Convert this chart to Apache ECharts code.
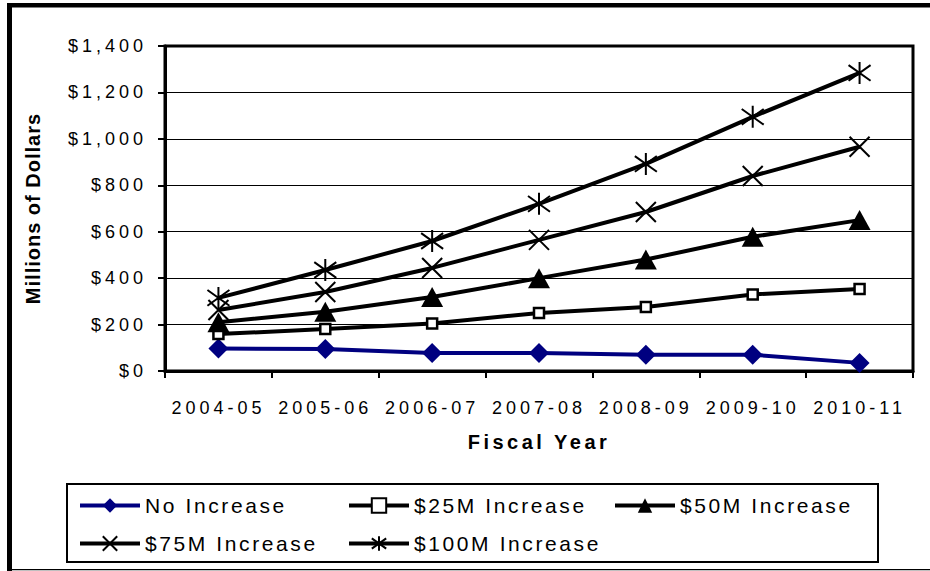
<!DOCTYPE html>
<html>
<head>
<meta charset="utf-8">
<script src="https://cdn.jsdelivr.net/npm/echarts@6/dist/echarts.min.js"></script>
<style>
  html, body { margin: 0; padding: 0; background: #fff; }
  #chart { width: 930px; height: 571px; }
  /* the reference text is widely spaced; SVG text picks this up */
  #chart text { letter-spacing: 4px; }
  #chart text[style*="bold"] { letter-spacing: 3.5px; }
  #chart text[style*="Arial"] { letter-spacing: 1px; }
  #chart text[style*="Helvetica"] { letter-spacing: 2.6px; }
</style>
</head>
<body>
<div id="chart"></div>
<script>
const years = ['2004-05', '2005-06', '2006-07', '2007-08', '2008-09', '2009-10', '2010-11'];
const noIncrease = [97, 95, 78, 78, 70, 70, 35];
const inc25 = [159, 181, 205, 250, 276, 330, 353];
const inc50 = [210, 255, 319, 400, 480, 578, 650];
const inc75 = [263, 340, 444, 565, 685, 840, 966];
const inc100 = [315, 435, 560, 720, 892, 1095, 1284];
const names = ['No Increase', '$25M Increase', '$50M Increase', '$75M Increase', '$100M Increase'];

const FONT = "'Liberation Sans', sans-serif";
const CROSS = 'path://M0,0L10,10M10,0L0,10';
const STAR = 'path://M0,0L10,10M10,0L0,10M5,-2L5,12';

function lineSeries(name, data, symbol, size, color, fill, border) {
  return {
    name: name,
    type: 'line',
    data: data,
    symbol: symbol,
    symbolSize: size,
    showAllSymbol: true,
    lineStyle: { color: color, width: 4 },
    itemStyle: { color: fill, borderColor: color, borderWidth: border },
    emphasis: { disabled: true }
  };
}

// one legend per entry so the columns line up like the original
const legendSpots = [[78, 490], [347, 490], [613, 490], [78, 528], [347, 528]];
const legends = names.map((n, i) => ({
  left: legendSpots[i][0],
  top: legendSpots[i][1],
  padding: 0,
  itemWidth: 60,
  itemHeight: 18,
  itemGap: 0,
  selectedMode: false,
  lineStyle: { width: 4 },
  textStyle: {
    fontFamily: "Helvetica, 'Liberation Sans', sans-serif",
    fontSize: 21,
    color: '#000',
    lineHeight: 31
  },
  data: [n]
}));

const chart = echarts.init(document.getElementById('chart'), null, { renderer: 'svg' });
chart.setOption({
  backgroundColor: '#fff',
  animation: false,
  textStyle: { fontFamily: FONT, color: '#000' },
  grid: {
    left: 165, right: 17, top: 46, bottom: 200,
    show: true, borderColor: '#000', borderWidth: 3
  },
  xAxis: {
    type: 'category',
    data: years,
    boundaryGap: true,
    name: 'Fiscal Year',
    nameLocation: 'middle',
    nameGap: 61,
    nameTextStyle: { fontFamily: FONT, fontWeight: 'bold', fontSize: 20, color: '#000' },
    axisLine: { lineStyle: { color: '#000', width: 3 } },
    axisTick: { show: true, length: 7, lineStyle: { color: '#000', width: 2 } },
    axisLabel: { interval: 0, margin: 28, fontSize: 18, color: '#000', fontFamily: FONT }
  },
  yAxis: {
    type: 'value',
    min: 0,
    max: 1400,
    interval: 200,
    name: 'Millions of Dollars',
    nameLocation: 'middle',
    nameGap: 122,
    nameTextStyle: { fontFamily: "Arial, 'Liberation Sans'", fontWeight: 'bold', fontSize: 20, color: '#000' },
    axisLine: { show: true, lineStyle: { color: '#000', width: 3 } },
    axisTick: { show: true, length: 7, lineStyle: { color: '#000', width: 2 } },
    axisLabel: {
      margin: 18, fontSize: 18, color: '#000', fontFamily: FONT,
      formatter: v => '$' + v.toLocaleString('en-US')
    },
    splitLine: { lineStyle: { color: '#000', width: 1 } }
  },
  legend: legends,
  graphic: [
    // outer frame
    { type: 'rect', shape: { x: 7, y: 3, width: 923, height: 4.5 }, style: { fill: '#000' }, silent: true },
    { type: 'rect', shape: { x: 7, y: 3, width: 5, height: 568 }, style: { fill: '#000' }, silent: true },
    { type: 'rect', shape: { x: 7, y: 569, width: 923, height: 1.2 }, style: { fill: '#000' }, silent: true },
    // legend box
    { type: 'rect', shape: { x: 67, y: 484, width: 811, height: 78 }, style: { fill: 'none', stroke: '#000', lineWidth: 2 }, silent: true }
  ],
  series: [
    lineSeries(names[0], noIncrease, 'diamond', [20, 20], '#000080', '#000080', 0),
    lineSeries(names[1], inc25, 'rect', 10, '#000', '#fff', 2.5),
    lineSeries(names[2], inc50, 'triangle', [22, 20], '#000', '#000', 0),
    lineSeries(names[3], inc75, CROSS, 20, '#000', '#000', 2),
    lineSeries(names[4], inc100, STAR, 22, '#000', '#000', 2)
  ]
});
</script>
</body>
</html>
